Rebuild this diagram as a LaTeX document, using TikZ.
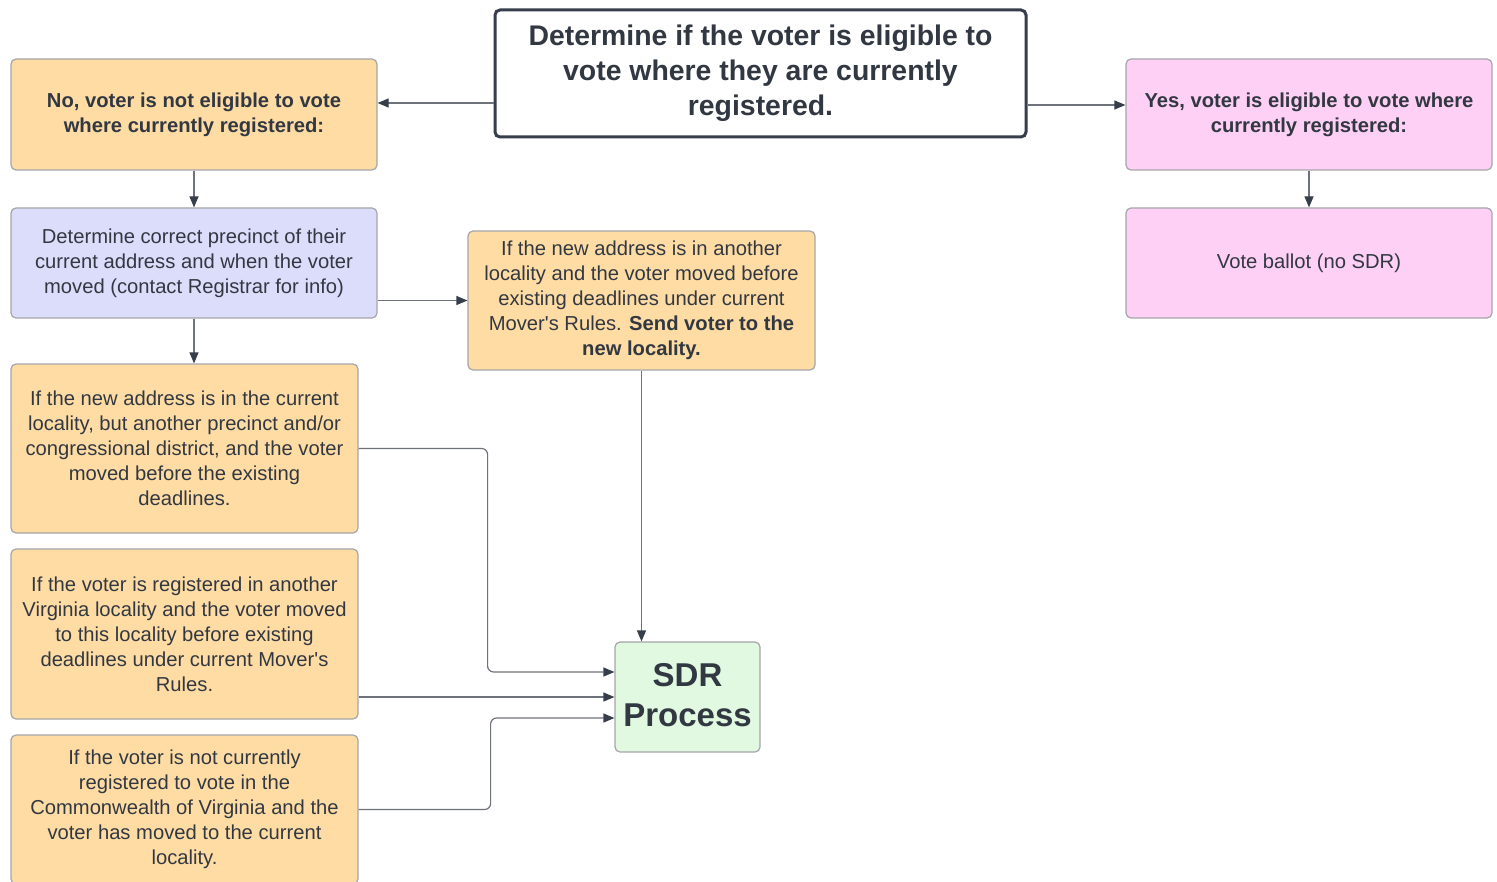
\documentclass[tikz,border=0pt]{standalone}
\usepackage{fontspec}
\setmainfont{Liberation Sans}
\usetikzlibrary{arrows.meta}
\definecolor{boxorange}{RGB}{254,220,163}
\definecolor{boxpink}{RGB}{255,208,245}
\definecolor{boxblue}{RGB}{220,221,251}
\definecolor{boxgreen}{RGB}{225,248,225}
\definecolor{edgegray}{RGB}{165,165,170}
\definecolor{linegray}{RGB}{110,114,122}
\definecolor{tipdark}{RGB}{55,62,75}
\definecolor{txtdark}{RGB}{50,56,66}
\tikzset{box/.style={draw=edgegray, line width=0.6pt, rounded corners=2.5pt, align=center, text=txtdark, inner sep=0pt, font=\fontsize{10.1}{12.5}\selectfont},
orangebox/.style={box, fill=boxorange},
pinkbox/.style={box, fill=boxpink},
bluebox/.style={box, fill=boxblue},
link/.style={draw=linegray, line width=0.6pt, rounded corners=3pt, -{Triangle[length=5.5pt,width=4.5pt,color=tipdark]}}}

\begin{document}
\begin{tikzpicture}[x=0.5pt,y=-0.5pt]
\useasboundingbox (0,0) rectangle (1497,882);

\node[box, draw=tipdark, line width=1.5pt, fill=white, minimum width=265.5pt, minimum height=63.5pt, font=\fontsize{14.2}{17.5}\selectfont\bfseries] (title) at (760.5,73.5)
{Determine if the voter is eligible to\\ vote where they are currently\\ registered.};

\node[orangebox, minimum width=183pt, minimum height=55.5pt, font=\fontsize{10.1}{12.5}\selectfont\bfseries] (no) at (194,114.5)
{\raisebox{1pt}{No, voter is not eligible to vote}\\ \raisebox{1pt}{where currently registered:}};
\node[pinkbox, minimum width=183pt, minimum height=55.5pt, font=\fontsize{10.1}{12.5}\selectfont\bfseries] (yes) at (1309,114.5)
{\raisebox{1pt}{Yes, voter is eligible to vote where}\\ \raisebox{1pt}{currently registered:}};

\node[bluebox, minimum width=183pt, minimum height=55pt] (det) at (194,263)
{Determine correct precinct of their\\ current address and when the voter\\ moved (contact Registrar for info)};
\node[pinkbox, minimum width=183pt, minimum height=55pt] (vote) at (1309,263)
{Vote ballot (no SDR)};

\node[orangebox, minimum width=173.5pt, minimum height=69.5pt] (other) at (641.5,300.5)
{If the new address is in another\\ locality and the voter moved before\\ existing deadlines under current\\ Mover\textquotesingle s Rules. \textbf{Send voter to the}\\ \textbf{new locality.}};

\node[orangebox, minimum width=173.5pt, minimum height=84.5pt] (here) at (184.5,448.5)
{If the new address is in the current\\ locality, but another precinct and/or\\ congressional district, and the voter\\ moved before the existing\\ deadlines.};
\node[orangebox, minimum width=173.5pt, minimum height=85pt] (virg) at (184.5,634)
{If the voter is registered in another\\ Virginia locality and the voter moved\\ to this locality before existing\\ deadlines under current Mover\textquotesingle s\\ Rules.};
\node[orangebox, minimum width=173.5pt, minimum height=74.5pt] (new) at (184.5,809.5)
{If the voter is not currently\\ registered to vote in the\\ Commonwealth of Virginia and the\\ voter has moved to the current\\ locality.};

\node[box, fill=boxgreen, minimum width=72.5pt, minimum height=55pt, font=\fontsize{16.5}{20}\selectfont\bfseries] (sdr) at (687.5,697)
{\raisebox{2pt}{SDR}\\ \raisebox{2pt}{Process}};

% connectors
\coordinate (tl) at ([yshift=-14.75pt]title.west);
\coordinate (tr) at ([yshift=-15.75pt]title.east);
\draw[link] (tl) -- (tl -| no.east);
\draw[link] (tr) -- (tr -| yes.west);
\draw[link] (no) -- (det);
\draw[link] (yes) -- (vote);
\draw[link] (other.west -| det.east) -- (other.west);
\draw[link] (det.south) -- (det.south |- here.north);
\draw[link] (other.south) -- (other.south |- sdr.north);
\draw[link] (here.east) -- ++(129,0) |- ([yshift=12.5pt]sdr.west);
\draw[link] (sdr.west -| virg.east) -- (sdr.west);
\draw[link] (new.east) -- ++(132,0) |- ([yshift=-10.5pt]sdr.west);
\end{tikzpicture}
\end{document}
